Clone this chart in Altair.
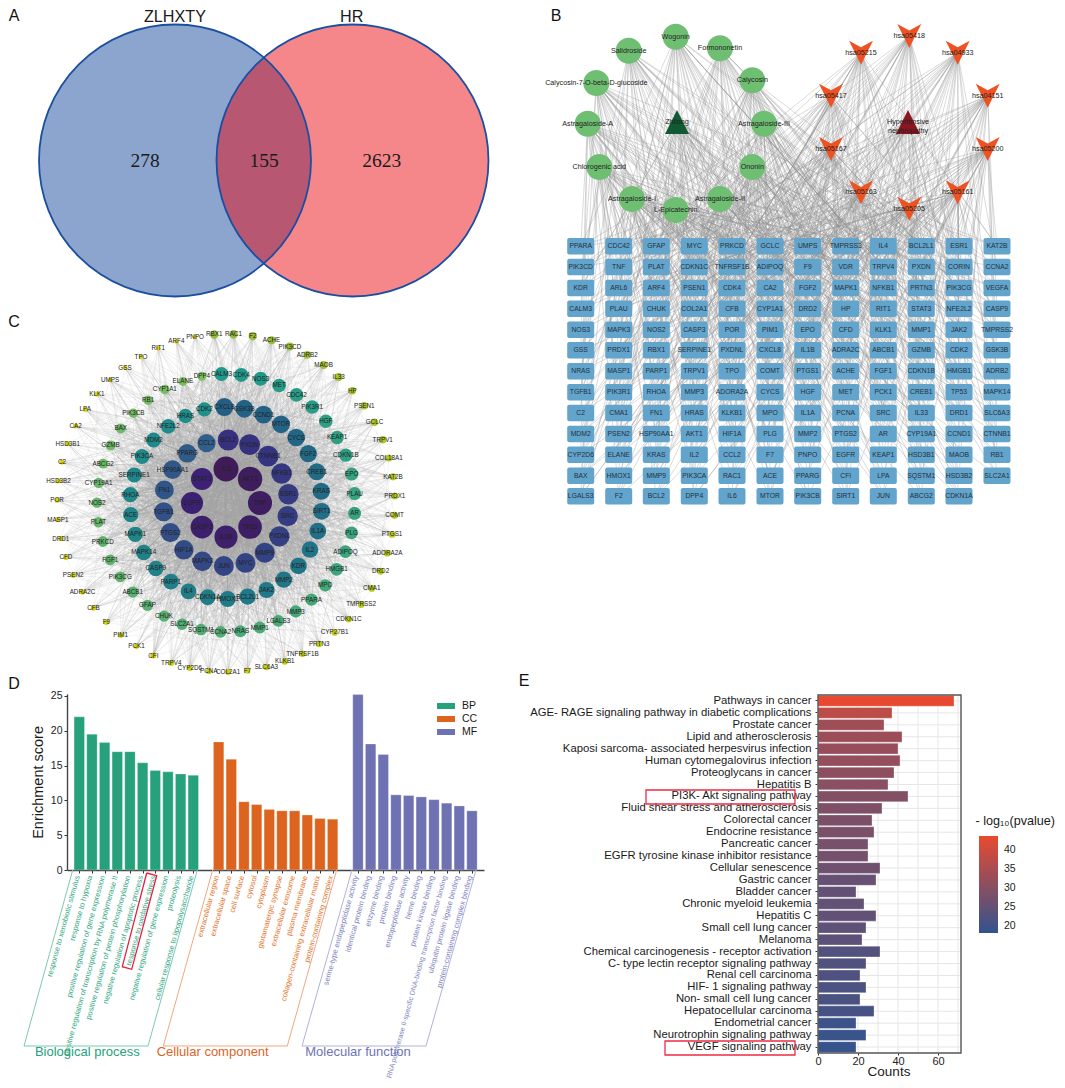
import math
import altair as alt
import pandas as pd

alt.data_transformers.disable_max_rows()
FONT = "Liberation Sans"
W, H = 1049, 1072

# ---------- Panel A ----------
venn_labels = ["ZLHXTY", "HR"]
venn_counts = ["278", "155", "2623"]

# ---------- Panel B ----------
compounds = ["Wogonin", "Salidroside", "Formononetin", "Calycosin-7-O-beta-D-glucoside", "Calycosin",
             "Astragaloside-A", "Astragaloside-III", "Chlorogenic acid", "Ononin", "Astragaloside-I",
             "Astragaloside-II", "L-Epicatechin"]
compound_x = [675.7, 628.7, 720, 596.3, 752.3, 587.7, 764, 599.3, 752.3, 632, 720, 675.7]
compound_y = [36.7, 50.7, 48.3, 83, 80.3, 123.7, 123.7, 167, 167, 199, 199, 210]
pathways = ["hsa05418", "hsa05215", "hsa04933", "hsa05417", "hsa04151", "hsa05167", "hsa05200",
            "hsa05163", "hsa05161", "hsa05205"]
pathway_x = [909.3, 861, 957.7, 831, 987.7, 831, 987.7, 861, 957.7, 909.3]
pathway_y = [36, 52.7, 52.7, 95.7, 95.7, 149, 149, 192.3, 192.3, 208.7]
hubs = ["Zhilong", "Hypertensive\nnephropathy"]
hub_x = [677, 908]
hub_y = [122, 122]
hub_colors = ["#0F5A32", "#8B1520"]
gene_rows = [
    "PPARA CDC42 GFAP MYC PRKCD GCLC UMPS TMPRSS3 IL4 BCL2L1 ESR1 KAT2B",
    "PIK3CD TNF PLAT CDKN1C TNFRSF1B ADIPOQ F9 VDR TRPV4 PXDN CORIN CCNA2",
    "KDR ARL6 ARF4 PSEN1 CDK4 CA2 FGF2 MAPK1 NFKB1 PRTN3 PIK3CG VEGFA",
    "CALM3 PLAU CHUK COL2A1 CFB CYP1A1 DRD2 HP RIT1 STAT3 NFE2L2 CASP9",
    "NOS3 MAPK3 NOS2 CASP3 POR PIM1 EPO CFD KLK1 MMP1 JAK2 TMPRSS2",
    "GSS PRDX1 RBX1 SERPINE1 PXDNL CXCL8 IL1B ADRA2C ABCB1 GZMB CDK2 GSK3B",
    "NRAS MASP1 PARP1 TRPV1 TPO COMT PTGS1 ACHE FGF1 CDKN1B HMGB1 ADRB2",
    "TGFB1 PIK3R1 RHOA MMP3 ADORA2A CYCS HGF MET PCK1 CREB1 TP53 MAPK14",
    "C2 CMA1 FN1 HRAS KLKB1 MPO IL1A PCNA SRC IL33 DRD1 SLC6A3",
    "MDM2 PSEN2 HSP90AA1 AKT1 HIF1A PLG MMP2 PTGS2 AR CYP19A1 CCND1 CTNNB1",
    "CYP2D6 ELANE KRAS IL2 CCL2 F7 PNPO EGFR KEAP1 HSD3B1 MAOB RB1",
    "BAX HMOX1 MMP9 PIK3CA RAC1 ACE PPARG CFI LPA SQSTM1 HSD3B2 SLC2A1",
    "LGALS3 F2 BCL2 DPP4 IL6 MTOR PIK3CB SIRT1 JUN ABCG2 CDKN1A",
]
gene_col_x = [580.7, 618.7, 656.3, 694.3, 732, 770, 807.7, 845.7, 883.3, 921.3, 959, 997]
gene_row_y = [246.3, 267, 288, 308.7, 329.7, 350.3, 371.3, 392.3, 413, 434, 454.7, 475.7, 496.3]

# ---------- Panel C: names clockwise per ring, with an estimated degree read from node size/colour ----------
ring0 = "IL6 AKT1 TNF TP53 IL1B CASP3 EGFR STAT3".split()
ring0_deg = [90, 88, 87, 85, 83, 82, 80, 79]
ring1 = "BCL2 PXDN CTNNB1 NFKB1 ESR1 SRC PXDNL MMP9 MYC JUN MAPK3 HIF1A PTGS2 TGFB1 FN1 HSP90AA1 PPARG CCL2".split()
ring1_deg = [76, 75, 74, 72, 71, 70, 68, 67, 66, 66, 64, 62, 60, 59, 57, 56, 54, 52]
ring2 = ("CXCL8 GSK3B CCND1 MTOR CYCS FGF2 CREB1 KRAS SIRT1 IL1A IL2 KDR MMP2 JAK2 BCL2L1 HMOX1 CDKN1A IL4 "
         "PARP1 CASP9 MAPK14 MAPK1 ACE RHOA SERPINE1 PIK3CA MDM2 NFE2L2 HRAS CDK2").split()
ring2_deg = [50, 49, 49, 48, 47, 46, 45, 45, 44, 43, 42, 42, 41, 40, 40, 39, 38, 38, 37, 36, 36, 35, 35, 34,
             34, 33, 33, 32, 31, 30]
ring3 = ("CALM3 CDK4 NOS3 MET CDC42 PIK3R1 HGF KEAP1 CDKN1B EPO PLAU AR PLG ADIPOQ HMGB1 MPO PPARA MMP3 LGALS3 "
         "MMP1 NRAS CCNA2 SQSTM1 SLC2A1 CHUK GFAP ABCB1 PIK3CG FGF1 PRKCD PLAT NOS2 CYP19A1 ABCG2 GZMB BAX "
         "PIK3CB RB1 CYP1A1 ELANE DPP4").split()
ring3_deg = [29, 29, 29, 28, 28, 28, 27, 27, 27, 26, 26, 26, 25, 25, 25, 24, 24, 24, 23, 23, 23, 22, 22, 22,
             21, 21, 21, 20, 20, 20, 19, 19, 19, 18, 18, 18, 17, 17, 17, 16, 16]
ring4 = ("RBX1 RAC1 F2 ACHE PIK3CD ADRB2 MAOB IL33 HP PSEN1 GCLC TRPV1 COL18A1 KAT2B PRDX1 COMT PTGS1 ADORA2A "
         "DRD2 CMA1 TMPRSS2 CDKN1C CYP27B1 PRTN3 TNFRSF1B KLKB1 SLC6A3 F7 COL2A1 PCNA CYP2D6 TRPV4 CFI PCK1 "
         "PIM1 F9 CFB ADRA2C PSEN2 CFD DRD1 MASP1 POR HSD3B2 C2 HSD3B1 CA2 LPA KLK1 UMPS GSS TPO RIT1 ARF4 PNPO").split()
ring4_deg = [15, 15, 14, 14, 14, 13, 13, 13, 12, 12, 12, 12, 11, 11, 11, 11, 10, 10, 10, 10, 10, 9, 9, 9, 9, 9,
             9, 8, 8, 8, 8, 8, 8, 7, 7, 7, 7, 7, 7, 7, 6, 6, 6, 6, 6, 6, 6, 6, 6, 5, 5, 5, 5, 5, 5]
ring_radius = [34, 63, 96, 129, 169]
ring_start_deg = [0, 2, -1, -2, -4]
C_CENTER = (226, 503)

# ---------- Panel D ----------
bp_terms = ["response to xenobiotic stimulus", "response to hypoxia", "positive regulation of gene expression",
            "positive regulation of transcription by RNA polymerase II",
            "positive regulation of protein phosphorylation", "negative regulation of apoptotic process",
            "response to oxidative stress", "negative regulation of gene expression", "proteolysis",
            "cellular response to lipopolysaccharide"]
bp_values = [22.0, 19.5, 18.3, 17.0, 17.0, 15.4, 14.3, 14.1, 13.8, 13.6]
cc_terms = ["extracellular region", "extracellular space", "cell surface", "cytosol", "cytoplasm",
            "glutamatergic synapse", "extracellular exosome", "plasma membrane",
            "collagen-containing extracellular matrix", "protein-containing complex"]
cc_values = [18.4, 15.9, 9.8, 9.4, 8.7, 8.5, 8.5, 7.9, 7.4, 7.3]
mf_terms = ["serine-type endopeptidase activity", "identical protein binding", "enzyme binding", "protein binding",
            "endopeptidase activity", "heme binding", "protein kinase binding",
            "RNA polymerase II-specific DNA-binding transcription factor binding",
            "ubiquitin protein ligase binding", "protein-containing complex binding"]
mf_values = [25.2, 18.1, 16.6, 10.8, 10.7, 10.5, 10.1, 9.6, 9.2, 8.5]
group_names = ["BP", "CC", "MF"]
group_titles = ["Biological process", "Cellular component", "Molecular function"]
group_colors = ["#26A17B", "#DC641F", "#6E72B3"]
group_text = ["#35A985", "#E2772F", "#8284C0"]
group_frame = ["#7CC9B0", "#F0A781", "#B0B2DA"]

# ---------- Panel E ----------
kegg_terms = ["Pathways in cancer", "AGE- RAGE signaling pathway in diabetic complications", "Prostate cancer",
              "Lipid and atherosclerosis", "Kaposi sarcoma- associated herpesvirus infection",
              "Human cytomegalovirus infection", "Proteoglycans in cancer", "Hepatitis B",
              "PI3K- Akt signaling pathway", "Fluid shear stress and atherosclerosis", "Colorectal cancer",
              "Endocrine resistance", "Pancreatic cancer", "EGFR tyrosine kinase inhibitor resistance",
              "Cellular senescence", "Gastric cancer", "Bladder cancer", "Chronic myeloid leukemia", "Hepatitis C",
              "Small cell lung cancer", "Melanoma", "Chemical carcinogenesis -  receptor activation",
              "C- type lectin receptor signaling pathway", "Renal cell carcinoma", "HIF- 1 signaling pathway",
              "Non- small cell lung cancer", "Hepatocellular carcinoma", "Endometrial cancer",
              "Neurotrophin signaling pathway", "VEGF signaling pathway"]
kegg_counts = [68, 37, 33, 42, 40, 41, 38, 35, 45, 32, 27, 28, 25, 25, 31, 29, 19, 23, 29, 24, 22, 31, 24, 21, 24,
               21, 28, 19, 24, 19]
kegg_logp = [43.6, 37.5, 33.5, 33, 32.5, 32, 31, 30.5, 29.5, 29, 28.5, 28.3, 27.8, 27.5, 26.8, 25.5, 25.3, 25, 24.8,
             24.5, 24.2, 22.8, 22.5, 22.2, 21.8, 21.6, 21.2, 19.6, 19.2, 18.9]

# ---------- page-space scales for layouts and annotations ----------
PX = alt.Scale(domain=[0, 1065], range=[-8, 1057], nice=False, zero=False)
PY = alt.Scale(domain=[0, 1088], range=[-8, 1080], nice=False, zero=False)
X = lambda f="x": alt.X(f"{f}:Q", scale=PX, axis=None)
Y = lambda f="y": alt.Y(f"{f}:Q", scale=PY, axis=None)


def texts(df, **kw):
    kw.setdefault("font", FONT)
    kw.setdefault("color", "#1a1a1a")
    return alt.Chart(pd.DataFrame(df)).mark_text(**kw).encode(x=X(), y=Y(), text="t:N")


def polyline(xs, ys, color, width=1.0):
    d = pd.DataFrame({"x": xs, "y": ys, "o": range(len(xs))})
    return alt.Chart(d).mark_line(color=color, strokeWidth=width, interpolate="linear").encode(
        x=X(), y=Y(), order="o:O")


# ---------- A ----------
venn = pd.DataFrame({"x": [175, 352.5], "y": [160.5, 160.5]})
A = [alt.Chart(venn.iloc[[i]]).mark_point(filled=True, shape="circle", size=272 ** 2, opacity=o,
                                          color=c, strokeWidth=0).encode(x=X(), y=Y())
     for i, o, c in [(0, 0.5, "#194B9F"), (1, 0.47, "#EA0008")]] + [
    alt.Chart(venn).mark_point(filled=False, shape="circle", size=272 ** 2, color="#1A4FA0",
                               strokeWidth=1.8, opacity=1).encode(x=X(), y=Y()),
    texts({"x": [175, 351.7], "y": [16.5, 16.5], "t": venn_labels}, fontSize=16.2),
    texts({"x": [145, 264, 381.7], "y": [160.5] * 3, "t": venn_counts}, fontSize=19.5, font="Liberation Serif"),
]

# ---------- B ----------
genes = []
for r, line in enumerate(gene_rows):
    for c, g in enumerate(line.split()):
        genes.append({"t": g, "x": gene_col_x[c], "y": gene_row_y[r]})
genes = pd.DataFrame(genes)
genes["x0"], genes["x1"] = genes.x - 13.5, genes.x + 13.5
genes["y0"], genes["y1"] = genes.y - 8.2, genes.y + 8.2

# The individual links cannot be read off the picture: this is a fixed stand-in wiring that only
# reproduces the look (density and fan shape) of the network, not its real connectivity.
src_x = compound_x + pathway_x + hub_x
src_y = compound_y + pathway_y + hub_y
b_edges = []
for s, (sx, sy) in enumerate(zip(src_x, src_y)):
    for g, row in genes.iterrows():
        if (g * 7 + s * 11) % 5 == 0:
            b_edges.append({"x": sx, "y": sy, "x2": row.x, "y2": row.y})
b_edges = pd.DataFrame(b_edges)
V_SHAPE = "M-1,-1L0,-0.45L1,-1L0,1Z"
UP_SHAPE = "M0,-1L1,1L-1,1Z"

B = [
    alt.Chart(b_edges).mark_rule(color="#8f8f8f", strokeWidth=0.55, opacity=0.6).encode(
        x=X(), y=Y(), x2="x2:Q", y2="y2:Q"),
    alt.Chart(genes).mark_rect(color="#62A4CC", cornerRadius=2).encode(
        x=X("x0"), x2="x1:Q", y=Y("y0"), y2="y1:Q"),
    alt.Chart(pd.DataFrame({"x": compound_x, "y": compound_y})).mark_point(
        filled=True, shape="circle", size=26 ** 2, color="#6FBF73", opacity=1, strokeWidth=0).encode(x=X(), y=Y()),
    alt.Chart(pd.DataFrame({"x": pathway_x, "y": pathway_y})).mark_point(
        filled=True, shape=V_SHAPE, size=24 ** 2, color="#EE5222", opacity=1, strokeWidth=0).encode(x=X(), y=Y()),
] + [alt.Chart(pd.DataFrame({"x": [hub_x[i]], "y": [hub_y[i]]})).mark_point(
        filled=True, shape=UP_SHAPE, size=24 ** 2, color=hub_colors[i], opacity=1, strokeWidth=0).encode(x=X(), y=Y())
     for i in range(2)] + [
    texts({"t": genes.t, "x": genes.x, "y": genes.y}, fontSize=6.8, color="#24303a"),
    texts({"t": compounds + pathways + hubs, "x": src_x, "y": src_y}, fontSize=7.2, lineBreak="\n", color="#222222"),
]

# ---------- C ----------
nodes = []
for ri, (names, degs) in enumerate(zip([ring0, ring1, ring2, ring3, ring4],
                                       [ring0_deg, ring1_deg, ring2_deg, ring3_deg, ring4_deg])):
    for k, (n, d) in enumerate(zip(names, degs)):
        a = math.radians(ring_start_deg[ri] + 360 * k / len(names))
        nodes.append({"t": n, "deg": d, "x": C_CENTER[0] + ring_radius[ri] * math.sin(a),
                      "y": C_CENTER[1] - ring_radius[ri] * math.cos(a)})
nodes = pd.DataFrame(nodes)
# Stand-in wiring again (see panel B): deterministic, weighted toward the central hubs.
c_edges_in, c_edges_out = [], []
N = len(nodes)
for i, row in nodes.iterrows():
    for k in range(int(row.deg * (1.3 if row.deg >= 30 else 0.6))):
        j = int((((k * 0.618034 + i * 0.414214) % 1) ** 2.4) * N)
        if j != i:
            (c_edges_in if row.deg >= 30 else c_edges_out).append(
                {"x": row.x, "y": row.y, "x2": nodes.x[j], "y2": nodes.y[j]})
deg_domain = [5, 15, 16, 29, 30, 50, 52, 76, 79, 90]
deg_range = ["#E0D800", "#93BB3C", "#7CBF5F", "#21998A", "#1F908A", "#235F85", "#2F5F8A", "#36307F", "#3C2175", "#3F1C58"]
C = [
    alt.Chart(pd.DataFrame(c_edges_out)).mark_rule(color="#b4b4b4", strokeWidth=0.35, opacity=0.42).encode(
        x=X(), y=Y(), x2="x2:Q", y2="y2:Q"),
    alt.Chart(pd.DataFrame(c_edges_in)).mark_rule(color="#a8a8a8", strokeWidth=0.35, opacity=0.5).encode(
        x=X(), y=Y(), x2="x2:Q", y2="y2:Q"),
    alt.Chart(nodes).mark_point(filled=True, shape="circle", opacity=1, strokeWidth=0).encode(
        x=X(), y=Y(),
        size=alt.Size("deg:Q", legend=None, scale=alt.Scale(domain=[5, 15, 29, 50, 76, 90],
                                                            range=[20, 72, 196, 324, 441, 625])),
        color=alt.Color("deg:Q", legend=None, scale=alt.Scale(domain=deg_domain, range=deg_range, interpolate="rgb"))),
    texts({"t": nodes.t, "x": nodes.x, "y": nodes.y}, fontSize=6.3, color="#222222"),
]

# ---------- D ----------
rows = []
for gi, (terms, vals) in enumerate([(bp_terms, bp_values), (cc_terms, cc_values), (mf_terms, mf_values)]):
    for k, (t, v) in enumerate(zip(terms, vals)):
        rows.append({"i": gi * 11 + k, "term": t, "v": v, "g": group_names[gi]})
dd = pd.DataFrame(rows)
dd["i0"], dd["i1"] = dd.i - 0.41, dd.i + 0.41
dd["li"] = dd.i - 0.12
dd["ly"] = -0.85
dd["fs"] = [7.0 if len(t) > 60 else 7.5 for t in dd.term]
DX = alt.Scale(domain=[-0.97, 31.95], range=[67 - 8, 484 - 8], nice=False, zero=False)
DY = alt.Scale(domain=[0, 25.3], range=[870 - 8, 870 - 8 - 176.1], nice=False, zero=False)
d_x_axis = alt.Axis(orient="bottom", values=list(dd.i), labels=False, title=None, grid=False, offset=(870 - 8) - H,
                    domainColor="#444444", domainWidth=1.4, tickColor="#333333", tickSize=3, tickWidth=1)
d_y_axis = alt.Axis(orient="left", values=[0, 5, 10, 15, 20, 25], title="Enrichment score", grid=False,
                    offset=-(67 - 8), domainColor="#444444", domainWidth=1.4, tickColor="#333333", tickSize=3,
                    tickWidth=1, labelFontSize=10.5, labelFont=FONT, labelColor="#222222", titleFontSize=14.5,
                    titleFont=FONT, titleFontWeight="normal", titleColor="#1a1a1a", titlePadding=5)
D = [
    alt.Chart(dd).mark_bar(stroke="white", strokeWidth=0.5, strokeOpacity=0.5).encode(
        x=alt.X("i0:Q", scale=DX, axis=d_x_axis), x2="i1:Q",
        y=alt.Y("v:Q", scale=DY, axis=d_y_axis), y2=alt.datum(0),
        color=alt.Color("g:N", legend=None, scale=alt.Scale(domain=group_names, range=group_colors))),
    alt.Chart(dd).mark_text(angle=285.5, align="right", baseline="middle", font=FONT).encode(
        x=alt.X("li:Q", scale=DX, axis=None), y=alt.Y("ly:Q", scale=DY, axis=None), text="term:N",
        size=alt.Size("fs:Q", scale=None, legend=None),
        color=alt.Color("g:N", legend=None, scale=alt.Scale(domain=group_names, range=group_text))),
]
frames = [polyline(x, [870, 1046, 1046, 870], c) for x, c in [
    ([72.7, 24, 148, 197.3], group_frame[0]),
    ([212.7, 163.3, 287.3, 336.7], group_frame[1]),
    ([352, 302, 426, 476], group_frame[2])]]
red_d = polyline([146.7, 156.7, 131.7, 122.3, 146.7], [873, 875.7, 969.3, 966.7, 873], "#E8203A", 1.3)
d_titles = [texts({"x": [x], "y": [1052], "t": [group_titles[i]]}, fontSize=13, color=group_colors[i])
            for i, x in enumerate([87.3, 212.7, 358])]
swatch = pd.DataFrame({"x0": [437] * 3, "x1": [455] * 3, "y0": [703, 716, 729], "y1": [709, 722, 735]})
d_legend = [alt.Chart(swatch.iloc[[i]]).mark_rect(color=group_colors[i]).encode(
    x=X("x0"), x2="x1:Q", y=Y("y0"), y2="y1:Q") for i in range(3)]
d_legend_text = texts({"x": [462] * 3, "y": [706, 719, 732], "t": group_names}, fontSize=10.5, align="left")

# ---------- E ----------
ee = pd.DataFrame({"term": kegg_terms, "n": kegg_counts, "p": kegg_logp})
EX = alt.Scale(domain=[0, 71.5], range=[818 - 8, 961 - 8], nice=False, zero=False)
EY = alt.Scale(domain=kegg_terms, range=[695 - 8, 1053 - 8], paddingInner=0.1, paddingOuter=0.05)
e_x_axis = alt.Axis(orient="bottom", values=[0, 20, 40, 60], title=None, grid=False, offset=(1053 - 8) - H,
                    domain=False, tickColor="#333333", tickSize=2, labelFontSize=11, labelFont=FONT,
                    labelColor="#222222", labelFlush=False, labelPadding=0)
e_y_axis = alt.Axis(orient="left", title=None, grid=False, offset=-(818 - 8), domain=False, tickColor="#333333",
                    tickSize=3, labelFontSize=11.3, labelFont=FONT, labelColor="#1a1a1a", labelLimit=400,
                    labelOverlap=False, labelPadding=4)
e_grid_v = pd.DataFrame({"n": [0, 10, 20, 30, 40, 50, 60, 70]})
E = [
    alt.Chart(e_grid_v).mark_rule(color="#E6E6E6", strokeWidth=1).encode(
        x=alt.X("n:Q", scale=EX, axis=None), y=alt.value(695 - 8), y2=alt.value(1053 - 8)),
    alt.Chart(ee).mark_rule(color="#E6E6E6", strokeWidth=1).encode(
        y=alt.Y("term:N", scale=EY, axis=None, sort=None), x=alt.value(818 - 8), x2=alt.value(961 - 8)),
    alt.Chart(ee).mark_bar(stroke="white", strokeWidth=0.5, strokeOpacity=0.6).encode(
        x=alt.X("n:Q", scale=EX, axis=e_x_axis),
        y=alt.Y("term:N", scale=EY, axis=e_y_axis, sort=None),
        color=alt.Color("p:Q", scale=alt.Scale(domain=[18.2, 43.7], range=["#32538F", "#E84A30"], interpolate="rgb"),
                        legend=alt.Legend(orient="none", legendX=979 - 8, legendY=836 - 8, direction="vertical",
                                          title=None, gradientLength=97, gradientThickness=19,
                                          values=[20, 25, 30, 35, 40], labelFontSize=10.5, labelFont=FONT,
                                          labelColor="#222222", labelOffset=6, gradientStrokeWidth=0))),
]
e_box = alt.Chart(pd.DataFrame({"x0": [818], "x1": [961], "y0": [695], "y1": [1053]})).mark_rect(
    filled=False, stroke="#555555", strokeWidth=1.4).encode(x=X("x0"), x2="x1:Q", y=Y("y0"), y2="y1:Q")
red_e = [alt.Chart(pd.DataFrame({"x0": [a], "x1": [795], "y0": [b], "y1": [c]})).mark_rect(
    filled=False, stroke="#EE2A44", strokeWidth=1.3).encode(x=X("x0"), x2="x1:Q", y=Y("y0"), y2="y1:Q")
    for a, b, c in [(646, 790, 804), (665, 1041, 1055)]]
legend_ticks = pd.DataFrame({"y": [849, 868, 887, 906, 925]})
e_legend_ticks = [alt.Chart(legend_ticks).mark_rule(color="white", strokeWidth=0.8).encode(
    y=Y(), x=alt.value(a - 8), x2=alt.value(b - 8)) for a, b in [(979, 983), (994, 998)]]
e_texts = [
    texts({"x": [1055], "y": [821], "t": ["- log₁₀(pvalue)"]}, fontSize=12.6, align="right"),
    texts({"x": [889], "y": [1075.5], "t": ["Counts"]}, fontSize=13.5, baseline="alphabetic"),
]

# ---------- letters ----------
letters = texts({"x": [14, 556, 14, 14, 524], "y": [16, 16, 322, 684, 681], "t": list("ABCDE")}, fontSize=16, color="#111111")

chart = alt.layer(
    *A, *C, *B, *D, *frames, red_d, *d_titles, *d_legend, d_legend_text, *E, e_box, *red_e, *e_legend_ticks,
    *e_texts, letters
).resolve_scale(
    x="independent", y="independent", color="independent", size="independent"
).resolve_axis(x="independent", y="independent").properties(
    width=W, height=H, padding=0, autosize=alt.AutoSizeParams(type="none")
).configure_view(stroke=None)

chart.save("out.html", embed_options={"renderer": "svg", "actions": False})
